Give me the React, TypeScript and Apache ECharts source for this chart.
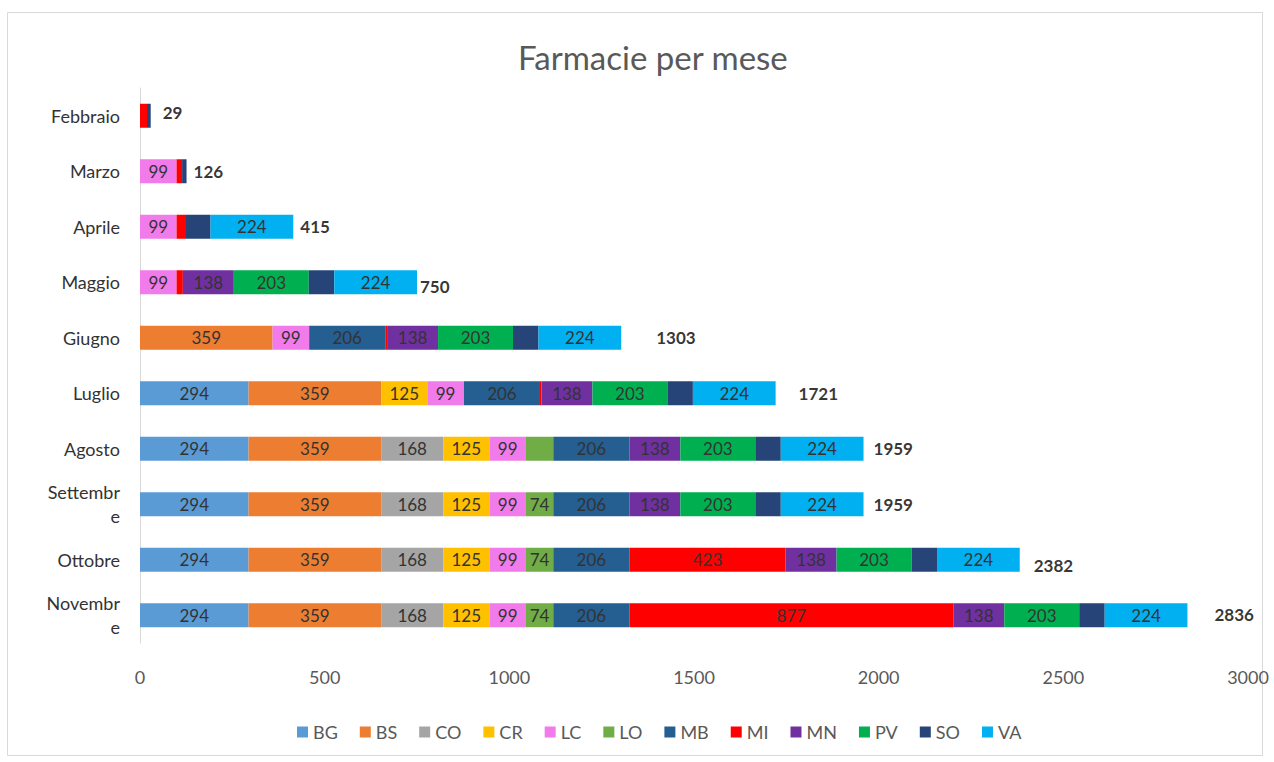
import React, { useEffect, useRef } from "react";
import * as echarts from "echarts";

const months = ["Febbraio", "Marzo", "Aprile", "Maggio", "Giugno", "Luglio", "Agosto", "Settembre", "Ottobre", "Novembre"];
const provinces = ["BG", "BS", "CO", "CR", "LC", "LO", "MB", "MI", "MN", "PV", "SO", "VA"];

const BG = [0, 0, 0, 0, 0, 294, 294, 294, 294, 294];
const BS = [0, 0, 0, 0, 359, 359, 359, 359, 359, 359];
const CO = [0, 0, 0, 0, 0, 0, 168, 168, 168, 168];
const CR = [0, 0, 0, 0, 0, 125, 125, 125, 125, 125];
const LC = [0, 99, 99, 99, 99, 99, 99, 99, 99, 99];
const LO = [0, 0, 0, 0, 0, 0, 74, 74, 74, 74];
const MB = [0, 0, 0, 0, 206, 206, 206, 206, 206, 206];
const MI = [19, 15, 23, 17, 5, 4, 0, 0, 423, 877];
const MN = [0, 0, 0, 138, 138, 138, 138, 138, 138, 138];
const PV = [0, 0, 0, 203, 203, 203, 203, 203, 203, 203];
const SO = [10, 12, 69, 69, 69, 69, 69, 69, 69, 69];
const VA = [0, 0, 224, 224, 224, 224, 224, 224, 224, 224];

const totals = [29, 126, 415, 750, 1303, 1721, 1959, 1959, 2382, 2836];
const xTicks = [0, 500, 1000, 1500, 2000, 2500, 3000];

// style-only: offsets of the total labels [dx, dy]
const totalLabelOffsets = [[12, -3], [7, 0], [7, 0], [3, 4], [35, 0], [23, 0], [10, 0], [10, 0], [14, 6], [27, -1]];
// style-only: segment labels hidden in the original
const hiddenSegmentLabels = [["LO", 6]];

const seriesValues: Record<string, number[]> = { BG, BS, CO, CR, LC, LO, MB, MI, MN, PV, SO, VA };
const colors: Record<string, string> = {
  BG: "#5B9BD5", BS: "#ED7D31", CO: "#A5A5A5", CR: "#FFC000", LC: "#F27BEB", LO: "#70AD47",
  MB: "#255E91", MI: "#FF0000", MN: "#7030A0", PV: "#00B050", SO: "#264478", VA: "#00B0F0",
};

const FONT = "Lato, 'Open Sans', sans-serif";

export default function App() {
  const ref = useRef<HTMLDivElement>(null);
  useEffect(() => {
    document.body.style.margin = "0";
    if (!ref.current) return;
    const chart = echarts.init(ref.current, null, { renderer: "svg" });
    const barSeries = provinces.map((p) => ({
      name: p,
      type: "bar",
      stack: "total",
      barWidth: 24,
      itemStyle: { color: colors[p] },
      label: {
        show: true,
        position: "inside",
        color: "#333333",
        fontFamily: FONT,
        fontSize: 17,
        formatter: (params: any) => {
          const v = params.value;
          if (v < 70) return "";
          if (hiddenSegmentLabels.some(([s, i]) => s === p && i === params.dataIndex)) return "";
          return String(v);
        },
      },
      data: seriesValues[p],
    }));
    chart.setOption({
      animation: false,
      textStyle: { fontFamily: FONT },
      title: {
        text: "Farmacie per mese",
        left: 513,
        top: 35,
        textStyle: { fontFamily: FONT, fontSize: 33, fontWeight: "normal", color: "#595959" },
      },
      graphic: [
        {
          type: "rect",
          shape: { x: 7.5, y: 12.5, width: 1255, height: 743 },
          style: { fill: "none", stroke: "#d9d9d9", lineWidth: 1 },
          silent: true,
        },
      ],
      legend: {
        data: provinces,
        bottom: 16,
        left: 292,
        icon: "rect",
        itemWidth: 11,
        itemHeight: 11,
        itemGap: 22,
        textStyle: { fontFamily: FONT, fontSize: 18, color: "#595959" },
      },
      grid: { left: 140, right: 26, top: 88, bottom: 119, containLabel: false },
      xAxis: {
        type: "value",
        min: xTicks[0],
        max: xTicks[xTicks.length - 1],
        interval: xTicks[1] - xTicks[0],
        splitLine: { show: false },
        axisLine: { show: false },
        axisTick: { show: false },
        axisLabel: {
          color: "#595959",
          fontSize: 18,
          fontFamily: FONT,
          margin: 25,
          formatter: (v: number) => String(v),
        },
      },
      yAxis: {
        type: "category",
        data: months,
        inverse: true,
        axisLine: { show: true, lineStyle: { color: "#d9d9d9" } },
        axisTick: { show: false },
        axisLabel: {
          color: "#333333",
          fontSize: 18,
          fontFamily: FONT,
          margin: 20,
          width: 76,
          overflow: "breakAll",
          lineHeight: 24,
        },
      },
      series: [
        ...barSeries,
        {
          name: "Totale",
          type: "scatter",
          symbolSize: 0,
          silent: true,
          label: {
            show: true,
            position: "right",
            distance: 0,
            color: "#000",
            fontWeight: "bold",
            fontSize: 17,
            fontFamily: FONT,
            formatter: (params: any) => String(params.value[0] ?? params.value),
          },
          data: totals.map((t, i) => ({
            value: [t, months[i]],
            label: { offset: totalLabelOffsets[i] },
          })),
        },
      ],
    });
    return () => chart.dispose();
  }, []);
  return <div ref={ref} style={{ width: 1274, height: 762 }} />;
}
